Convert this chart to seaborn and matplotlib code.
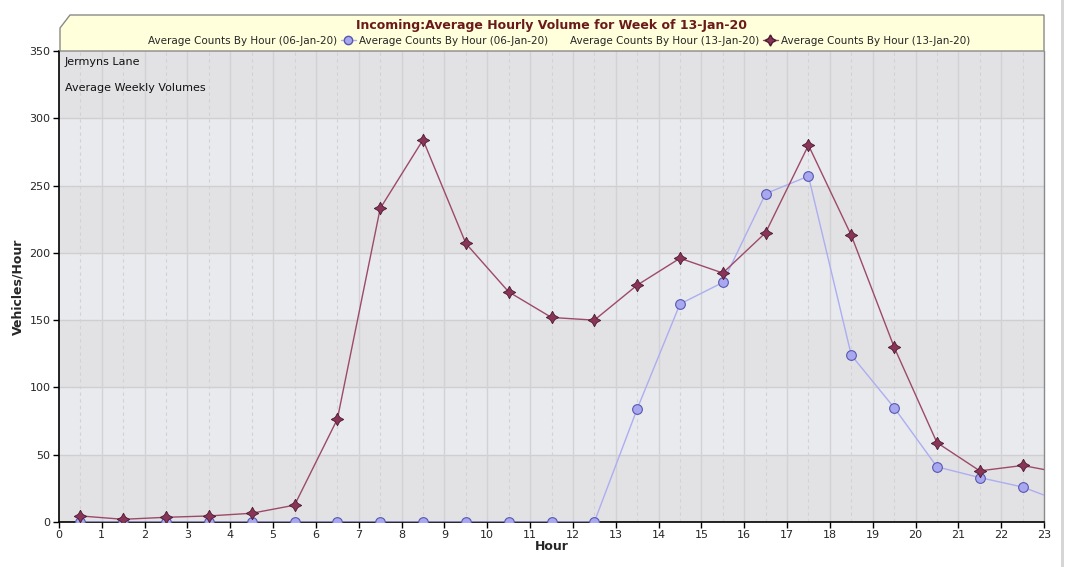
import matplotlib
matplotlib.use("Agg")
import matplotlib.pyplot as plt
from matplotlib.patches import Polygon, Rectangle
from matplotlib.lines import Line2D
import seaborn as sns
import pandas as pd
import numpy as np

hours = [0.5, 1.5, 2.5, 3.5, 4.5, 5.5, 6.5, 7.5, 8.5, 9.5, 10.5, 11.5,
         12.5, 13.5, 14.5, 15.5, 16.5, 17.5, 18.5, 19.5, 20.5, 21.5, 22.5, 23.5]
week_06 = [0, 0, 0, 0, 0, 0, 0, 0, 0, 0, 0, 0,
           0, 84, 162, 178, 244, 257, 124, 85, 41, 33, 26, 14]
week_13 = [4.5, 2, 3.5, 4.5, 6.5, 12.5, 76.5, 233, 284, 207, 171, 152,
           150, 176, 196, 185, 215, 280, 213, 130, 59, 38, 42, 36]
label_06 = "Average Counts By Hour (06-Jan-20)"
label_13 = "Average Counts By Hour (13-Jan-20)"
title = "Incoming:Average Hourly Volume for Week of 13-Jan-20"
x_ticks = list(range(0, 24))
y_ticks = [0, 50, 100, 150, 200, 250, 300, 350]

sns.set_theme(style="white")
plt.rcParams['font.family'] = ['DejaVu Sans']

W, H = 1067, 567
fig = plt.figure(figsize=(10.67, 5.67), dpi=100)
ax = fig.add_axes([59/W, 1 - 522/H, (1044 - 59)/W, (522 - 51)/H])

# banded background
for i, lo in enumerate(range(0, 350, 50)):
    col = "#e2e2e4" if i % 2 == 0 else "#e8eaed"
    ax.axhspan(lo, lo + 50, color=col, zorder=0, lw=0)
for yv in y_ticks[1:-1]:
    ax.axhline(yv, color="#cfcfd2", lw=1, zorder=1)
for xv in range(1, 23):
    ax.axvline(xv, color="#d2d2d5", lw=1, zorder=1)
for xv in np.arange(0.5, 23, 1.0):
    ax.axvline(xv, color="#d2d2d5", lw=0.8, ls=(0, (3, 3)), zorder=1)

df = pd.DataFrame({"Hour": hours, "w06": week_06, "w13": week_13})

sns.lineplot(data=df, x="Hour", y="w06", ax=ax, color="#adadf2", lw=1,
             marker="o", markersize=7, markerfacecolor="#a8a8f0",
             markeredgecolor="#5858b0", markeredgewidth=0.8, zorder=3)
sns.lineplot(data=df, x="Hour", y="w13", ax=ax, color="#9c4a68", lw=1,
             marker=(4, 1, 0), markersize=9, markerfacecolor="#8a3558",
             markeredgecolor="#4a1a30", markeredgewidth=0.6, zorder=4)

ax.set_xlim(0, 23)
ax.set_ylim(0, 350)
ax.set_xticks(x_ticks)
ax.set_yticks(y_ticks)
ax.tick_params(axis="both", labelsize=8, length=4, width=1, color="black",
               direction="out", bottom=True, left=True, pad=2)
ax.spines["top"].set_visible(False)
ax.spines["right"].set_color("#8a8a8a")
ax.spines["right"].set_linewidth(1)
for s in ["left", "bottom"]:
    ax.spines[s].set_color("black")
    ax.spines[s].set_linewidth(1.2)
ax.set_xlabel("Hour", fontsize=9, fontweight="bold", labelpad=0)
ax.set_ylabel("Vehicles/Hour", fontsize=9, fontweight="bold", labelpad=4)

ax.text(65/W, 1 - 62/H, "Jermyns Lane", transform=fig.transFigure,
        fontsize=8, va="center", ha="left", color="#111111")
ax.text(65/W, 1 - 88/H, "Average Weekly Volumes", transform=fig.transFigure,
        fontsize=8, va="center", ha="left", color="#111111")

# window edge strip on the right
fig.patches.append(Rectangle((1061/W, 0), 3/W, 1, transform=fig.transFigure,
                             facecolor="#d6d6d6", edgecolor="none"))

# title box
pts = [(60, 51), (60, 28), (70, 15), (1044, 15), (1044, 51)]
poly = Polygon([(x / W, 1 - y / H) for x, y in pts], closed=True,
               transform=fig.transFigure, facecolor="#ffffdc",
               edgecolor="#8a8a86", lw=1, zorder=5)
fig.patches.append(poly)
fig.text(552 / W, 1 - 25 / H, title, fontsize=9, fontweight="bold",
         color="#6a1a1a", ha="center", va="center", zorder=6,
         family=["Liberation Sans Narrow", "DejaVu Sans"])

handles = [
    Line2D([], [], color="none"),
    Line2D([], [], color="#adadf2", lw=1, marker="o", markersize=6,
           markerfacecolor="#a8a8f0", markeredgecolor="#5858b0"),
    Line2D([], [], color="none"),
    Line2D([], [], color="#9c4a68", lw=1, marker=(4, 1, 0), markersize=8,
           markerfacecolor="#8a3558", markeredgecolor="#4a1a30"),
]
labels = [label_06, label_06, label_13, label_13]
leg = fig.legend(handles, labels, loc="center", ncol=4,
                 bbox_to_anchor=(550 / W, 1 - 41 / H), frameon=False,
                 fontsize=7.5, handlelength=1.4, handletextpad=0.3,
                 columnspacing=0.4, borderpad=0)
leg.set_zorder(7)

fig.savefig("out.png", dpi=100, facecolor="white")
